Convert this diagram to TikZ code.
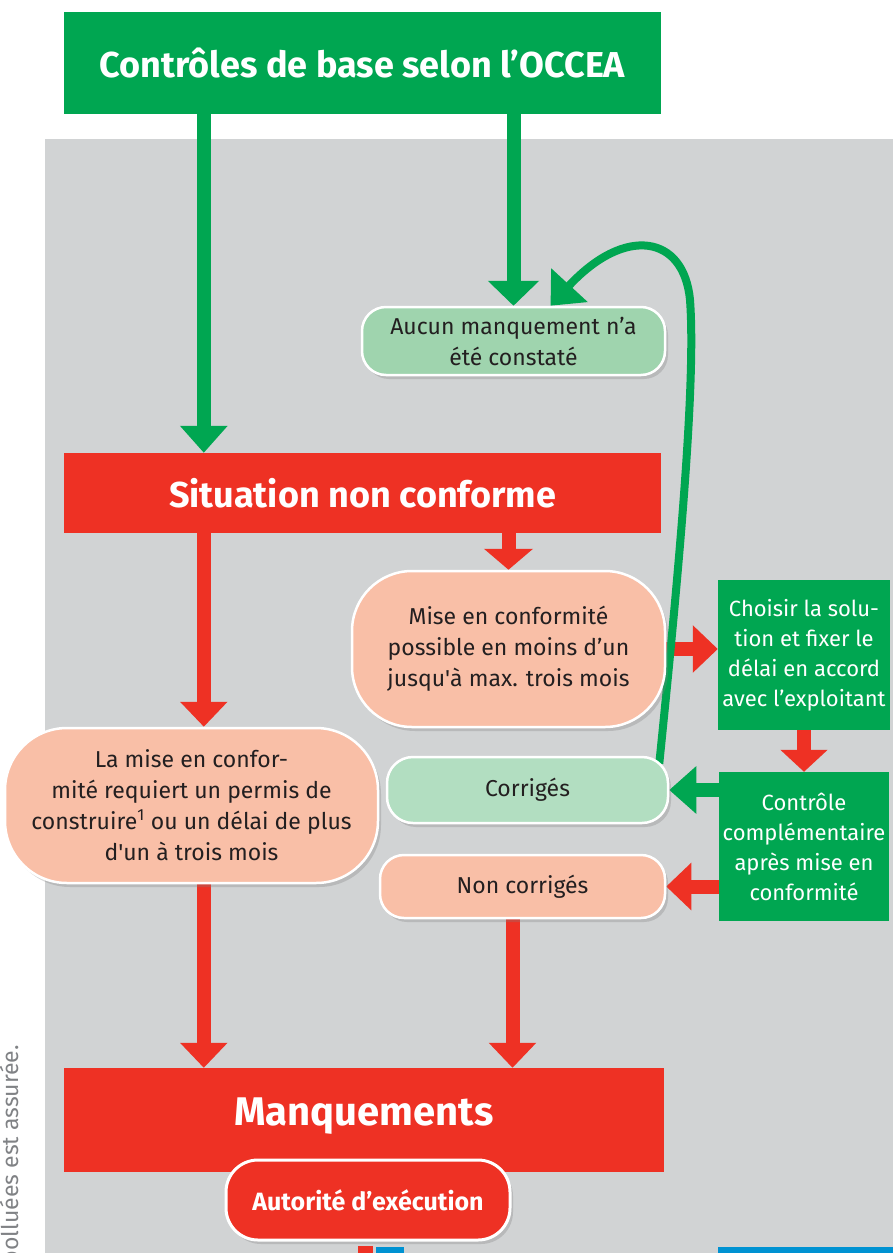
\documentclass[tikz,border=0pt]{standalone}
\usepackage{fontspec}
\setmainfont{Fira Sans}
\usetikzlibrary{arrows.meta,shadows,calc}
\definecolor{gr}{HTML}{00A651}
\definecolor{rd}{HTML}{EE3124}
\definecolor{salmon}{HTML}{F9BFA7}
\definecolor{lgA}{HTML}{9FD4AE}
\definecolor{lgB}{HTML}{B2DEC1}
\definecolor{bgc}{HTML}{D1D3D4}
\definecolor{txt}{HTML}{231F20}
\definecolor{foottxt}{HTML}{808285}
\definecolor{bl}{HTML}{0092D2}
\pgfdeclarelayer{bglayer}
\pgfdeclarelayer{arrowlayer}
\pgfsetlayers{bglayer,arrowlayer,main}
\begin{document}
\begin{tikzpicture}[x=1pt,y=-1pt,
  sq/.style={inner sep=0pt, align=center, text=white},
  pill/.style={draw=white, line width=2.5pt, inner sep=0pt, align=center, text=txt,
    font=\fontsize{23}{31}\selectfont,
    drop shadow={shadow xshift=3pt,shadow yshift=-4pt,opacity=0.3}},
  garrow/.style={draw=gr, line width=14pt, -{Triangle[width=46pt,length=27pt]}},
  rarrow/.style={draw=rd, line width=14pt, -{Triangle[width=46pt,length=25pt]}},
]
\useasboundingbox (0,0) rectangle (893,1253);
\clip (0,0) rectangle (893,1253);
\begin{pgfonlayer}{bglayer}
\fill[bgc] (45,139) rectangle (893,1253);
\fill[bl] (718,1247) rectangle (893,1253);
\fill[rd] (358,1246) rectangle (373,1253);
\fill[bl] (376,1247) rectangle (404,1253);
\end{pgfonlayer}

% square boxes
\node[sq, fill=gr, minimum width=597pt, minimum height=102pt, font=\bfseries\fontsize{36}{40}\selectfont] (top) at (362.5,63) {Contrôles de base selon l’OCCEA};
\node[sq, fill=rd, minimum width=597pt, minimum height=80pt, font=\bfseries\fontsize{36}{40}\selectfont] (sit) at (362.5,493) {Situation non conforme};
\node[sq, fill=rd, minimum width=600pt, minimum height=104pt, text height=30pt, text depth=20pt, font=\bfseries\fontsize{40}{44}\selectfont] (manq) at (364,1120) {Manquements};
\node[sq, fill=gr, minimum width=172pt, minimum height=150pt, font=\fontsize{22}{30}\selectfont] (choisir) at (804,655) {Choisir la solu-\\tion et fixer le\\délai en accord\\avec l’exploitant};
\node[sq, fill=gr, minimum width=170pt, minimum height=149pt, font=\fontsize{22}{30}\selectfont] (controle) at (804,846.5) {Contrôle\\complémentaire\\après mise en\\conformité};

% rounded boxes
\node[pill, fill=lgA, minimum width=303pt, minimum height=68pt, rounded corners=24pt] (aucun) at (513.5,341) {Aucun manquement n’a\\été constaté};
\node[pill, fill=salmon, minimum width=313pt, minimum height=156pt, rounded corners=60pt] (mise) at (508.5,649) {Mise en conformité\\possible en moins d’un\\jusqu\textquotesingle à max. trois mois};
\node[pill, fill=salmon, minimum width=373pt, minimum height=155pt, rounded corners=62pt] (lamise) at (191.5,805.5) {La mise en confor-\\mité requiert un permis de\\construire\textsuperscript{1} ou un délai de plus\\d\textquotesingle un à trois mois};
\node[pill, fill=lgB, minimum width=281pt, minimum height=66pt, rounded corners=26pt] (corr) at (527.5,790) {Corrigés};
\node[pill, fill=salmon, minimum width=285pt, minimum height=63pt, rounded corners=24pt] (noncorr) at (522.5,886.5) {Non corrigés};
\node[pill, fill=rd, text=white, line width=3pt, minimum width=284pt, minimum height=80pt, rounded corners=32pt, font=\bfseries\fontsize{25}{30}\selectfont] (autorite) at (368,1200) {Autorité d’exécution};

\node[rotate=90, anchor=base east, text=foottxt, font=\fontsize{23}{26}\selectfont, inner sep=0pt] (foot) at (18,1045) {polluées est assurée.};

\begin{pgfonlayer}{arrowlayer}
\coordinate (c1) at ([xshift=140pt]top.south west);
\draw[garrow] (c1) -- (c1 |- sit.north);
\draw[garrow, -{Triangle[width=50pt,length=25pt]}] (top.south -| aucun.north) -- (aucun.north);
\coordinate (c2) at ([xshift=140pt]sit.south west);
\draw[rarrow] (c2) -- (c2 |- lamise.north);
\draw[rarrow] (c2 |- lamise.south) -- (c2 |- manq.north);
\draw[rarrow, -{Triangle[width=48pt,length=21pt]}] (sit.south -| mise.north) -- (mise.north);
\draw[rarrow] (mise.east) -- (mise.east -| choisir.west);
\draw[rarrow, -{Triangle[width=46pt,length=22pt]}] (choisir.south) -- (controle.north);
\draw[garrow] (controle.west |- corr.east) -- (corr.east);
\draw[rarrow] (controle.west |- noncorr.east) -- (noncorr.east);
\draw[rarrow] ([xshift=-10pt]noncorr.south) -- ([xshift=-10pt]noncorr.south |- manq.north);
\draw[gr, line width=8pt, -{Triangle[width=48pt,length=28pt]}]
  ([xshift=-10pt,yshift=-8pt]corr.north east) .. controls (680,560) and (696,380) .. (690,300)
  .. controls (684,235) and (625,225) .. ([xshift=37pt]aucun.north);
\end{pgfonlayer}
\end{tikzpicture}
\end{document}
